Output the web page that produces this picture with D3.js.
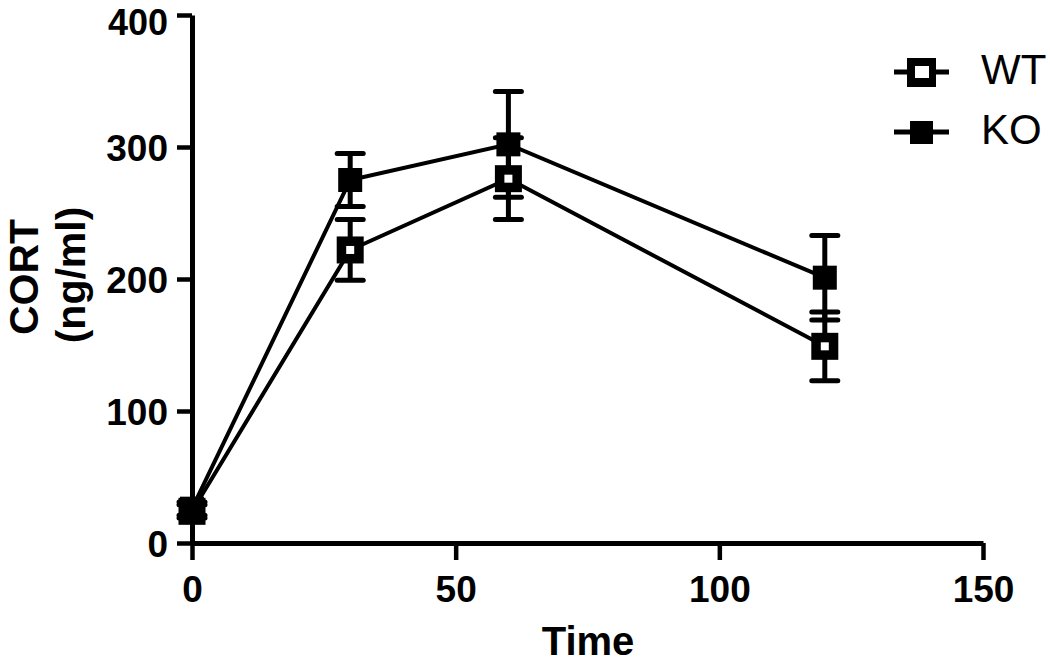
<!DOCTYPE html>
<html>
<head>
<meta charset="utf-8">
<script src="https://cdn.jsdelivr.net/npm/d3@7"></script>
<style>
  body { margin: 0; background: #fff; }
  svg { display: block; }
</style>
</head>
<body>
<div id="chart"></div>
<script>
'use strict';

// data
var times = [0, 30, 60, 120];
var wtMean = [24, 222, 276, 149];
var wtErr = [5, 23, 31, 26];
var koMean = [26, 275, 302, 201];
var koErr = [5, 20, 40, 32];
var xTicks = [0, 50, 100, 150];
var yTicks = [0, 100, 200, 300, 400];
var seriesNames = ['WT', 'KO'];

var width = 1050,
    height = 665;

var svg = d3.select('#chart').append('svg')
    .attr('width', width)
    .attr('height', height);

var x = d3.scaleLinear().domain([0, 150]).range([192, 983]);
var y = d3.scaleLinear().domain([0, 400]).range([543, 15]);

var fontFam = 'Liberation Sans, Arial, Helvetica, sans-serif';

// axes
var yAxis = d3.axisLeft(y).tickValues(yTicks).tickSize(15).tickSizeOuter(0).tickPadding(10);
var xAxis = d3.axisBottom(x).tickValues(xTicks).tickSize(17).tickSizeOuter(0).tickPadding(12);

var gy = svg.append('g').attr('transform', 'translate(' + x(0) + ',0)').call(yAxis);
var gx = svg.append('g').attr('transform', 'translate(0,' + y(0) + ')').call(xAxis);

[gx, gy].forEach(function(g) {
    g.select('.domain').attr('stroke', '#000').attr('stroke-width', 5);
    g.selectAll('.tick line').attr('stroke', '#000').attr('stroke-width', 4.5);
    g.selectAll('.tick text')
        .attr('fill', '#000')
        .style('font-family', fontFam)
        .style('font-weight', 'bold')
        .style('font-size', '37px');
});
gy.selectAll('.tick text').attr('dy', '0.36em').attr('x', -24);
// top label sits against the edge, keep it inside
gy.selectAll('.tick text').filter(function(d) { return d === 400; })
    .attr('dy', null).attr('dominant-baseline', 'text-before-edge').attr('y', -14)
    .style('font-size', '36px');
gx.selectAll('.tick text').attr('dy', null).attr('y', 59);

// axis titles
svg.append('text')
    .attr('x', 588).attr('y', 655)
    .attr('text-anchor', 'middle')
    .style('font-family', fontFam).style('font-weight', 'bold').style('font-size', '40px')
    .text('Time');

svg.append('text')
    .attr('transform', 'translate(38,277) rotate(-90)')
    .attr('text-anchor', 'middle')
    .style('font-family', fontFam).style('font-weight', 'bold').style('font-size', '41px')
    .text('CORT');

svg.append('text')
    .attr('transform', 'translate(85,275) rotate(-90)')
    .attr('text-anchor', 'middle')
    .style('font-family', fontFam).style('font-weight', 'bold').style('font-size', '41px')
    .text('(ng/ml)');

// series
var series = [
    { name: seriesNames[0], mean: wtMean, err: wtErr, hollow: true },
    { name: seriesNames[1], mean: koMean, err: koErr, hollow: false }
];

var line = d3.line()
    .x(function(d) { return x(d.t); })
    .y(function(d) { return y(d.v); });

series.forEach(function(s) {
    var pts = times.map(function(t, i) { return { t: t, v: s.mean[i], e: s.err[i] }; });
    s.pts = pts;
    svg.append('path')
        .datum(pts)
        .attr('d', line)
        .attr('fill', 'none')
        .attr('stroke', '#000')
        .attr('stroke-width', 4);
});

series.forEach(function(s) {
    var g = svg.append('g');
    var eb = g.selectAll('g.err').data(s.pts).enter().append('g');
    eb.append('line')
        .attr('x1', function(d) { return x(d.t); })
        .attr('x2', function(d) { return x(d.t); })
        .attr('y1', function(d) { return y(d.v - d.e); })
        .attr('y2', function(d) { return y(d.v + d.e); })
        .attr('stroke', '#000').attr('stroke-width', 5);
    [1, -1].forEach(function(sign) {
        eb.append('line')
            .attr('x1', function(d) { return x(d.t) - 13; })
            .attr('x2', function(d) { return x(d.t) + 13; })
            .attr('y1', function(d) { return y(d.v + sign * d.e); })
            .attr('y2', function(d) { return y(d.v + sign * d.e); })
            .attr('stroke', '#000').attr('stroke-width', 5)
            .attr('stroke-linecap', 'round');
    });
});

series.forEach(function(s) {
    var size = s.hollow ? 27 : 24;
    var g = svg.append('g');
    g.selectAll('rect.m').data(s.pts).enter().append('rect')
        .attr('x', function(d) { return x(d.t) - size / 2; })
        .attr('y', function(d) { return y(d.v) - size / 2; })
        .attr('width', size).attr('height', size)
        .attr('fill', '#000');
    if (s.hollow) {
        g.selectAll('rect.h').data(s.pts.slice(1)).enter().append('rect')
            .attr('x', function(d) { return x(d.t) - 4; })
            .attr('y', function(d) { return y(d.v) - 4; })
            .attr('width', 8).attr('height', 8)
            .attr('fill', '#fff');
    }
});

// legend
var legend = svg.append('g');
series.forEach(function(s, i) {
    var ly = 72 + i * 60;
    legend.append('line')
        .attr('x1', 894).attr('x2', 949)
        .attr('y1', ly).attr('y2', ly)
        .attr('stroke', '#000').attr('stroke-width', 5);
    if (s.hollow) {
        legend.append('rect').attr('x', 907).attr('y', ly - 14).attr('width', 29).attr('height', 29).attr('fill', '#000');
        legend.append('rect').attr('x', 915).attr('y', ly - 6).attr('width', 14).attr('height', 12).attr('fill', '#fff');
    } else {
        legend.append('rect').attr('x', 910).attr('y', ly - 11).attr('width', 23).attr('height', 23).attr('fill', '#000');
    }
    legend.append('text')
        .attr('x', 981).attr('y', ly + 12)
        .style('font-family', fontFam).style('font-size', '42px')
        .text(s.name);
});
</script>
</body>
</html>
